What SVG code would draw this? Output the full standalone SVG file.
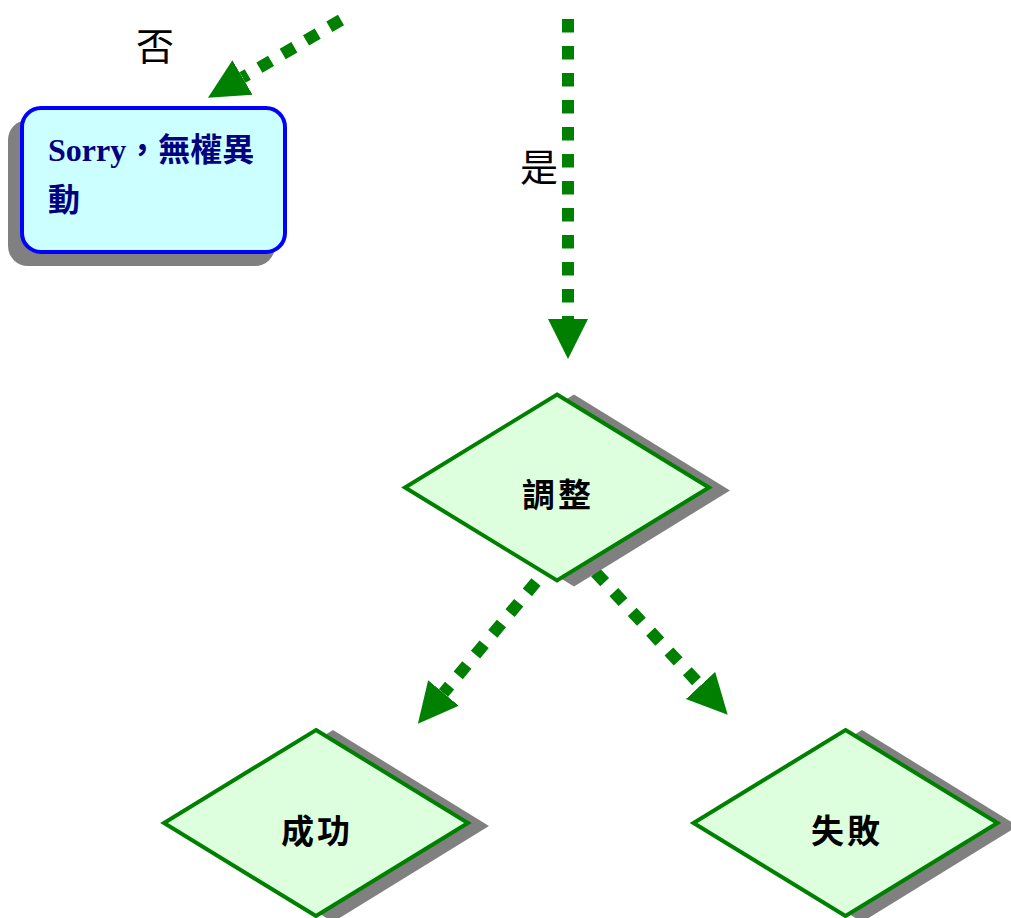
<svg xmlns="http://www.w3.org/2000/svg" width="1011" height="918" viewBox="0 0 1011 918">
  <defs>
    <style>
      .conn { fill: none; stroke: #008000; stroke-width: 12; stroke-dasharray: 13.5 13.5; stroke-linecap: butt; }
      .dia { fill: #DDFFDD; stroke: #008000; stroke-width: 4; stroke-linejoin: miter; }
      .shadow { fill: #808080; stroke: none; }
      .dtext { font-family: "Liberation Serif", "Noto Sans CJK TC", serif; font-size: 33px; font-weight: bold; fill: #000000; text-anchor: middle; letter-spacing: 3px; }
      .lbl { font-family: "Liberation Serif", "Noto Sans CJK TC", serif; font-size: 38px; fill: #000000; text-anchor: middle; }
      .btext { font-family: "Liberation Serif", "Noto Sans CJK TC", serif; font-size: 32px; font-weight: bold; fill: #000080; }
    </style>
    <marker id="arrow" markerUnits="userSpaceOnUse" markerWidth="42" markerHeight="42" viewBox="0 -21 42 42" refX="0" refY="0" orient="auto">
      <path d="M0,-20 L40,0 L0,20 Z" fill="#008000"/>
    </marker>
    <polygon id="diamond" points="0,-93 152,0 0,93 -152,0"/>
    <polygon id="diamondShadow" points="0,-96 156,0 0,96 -156,0"/>
  </defs>
  <rect width="1011" height="918" fill="#ffffff"/>

  <g id="connectors">
    <line id="c-no" class="conn" x1="341" y1="20" x2="242.5" y2="77.5" marker-end="url(#arrow)"/>
    <line id="c-yes" class="conn" x1="568" y1="19" x2="568" y2="319" marker-end="url(#arrow)"/>
    <line id="c-success" class="conn" x1="536" y1="582" x2="443.5" y2="693" marker-end="url(#arrow)"/>
    <line id="c-fail" class="conn" x1="595.5" y1="572.3" x2="700.5" y2="685.5" marker-end="url(#arrow)"/>
  </g>

  <g id="label-no">
    <text class="lbl" x="155" y="60">否</text>
  </g>
  <g id="label-yes">
    <text class="lbl" x="539" y="181">是</text>
  </g>

  <g id="node-sorry">
    <rect x="8" y="120" width="267" height="146" rx="20" ry="20" class="shadow"/>
    <rect x="22" y="108" width="263" height="144" rx="19" ry="19" fill="#CCFFFF" stroke="#0000FF" stroke-width="4"/>
    <text class="btext" x="48" y="161">Sorry，無權異</text>
    <text class="btext" x="48" y="211">動</text>
  </g>

  <g id="node-adjust">
    <use href="#diamondShadow" x="574" y="490.5" class="shadow"/>
    <use href="#diamond" x="557" y="487.5" class="dia"/>
    <text class="dtext" x="558" y="507">調整</text>
  </g>

  <g id="node-success">
    <use href="#diamondShadow" x="333" y="826" class="shadow"/>
    <use href="#diamond" x="316" y="823" class="dia"/>
    <text class="dtext" x="317" y="843">成功</text>
  </g>

  <g id="node-fail">
    <use href="#diamondShadow" x="862" y="826" class="shadow"/>
    <use href="#diamond" x="845.5" y="823" class="dia"/>
    <text class="dtext" x="847" y="843">失敗</text>
  </g>
</svg>
